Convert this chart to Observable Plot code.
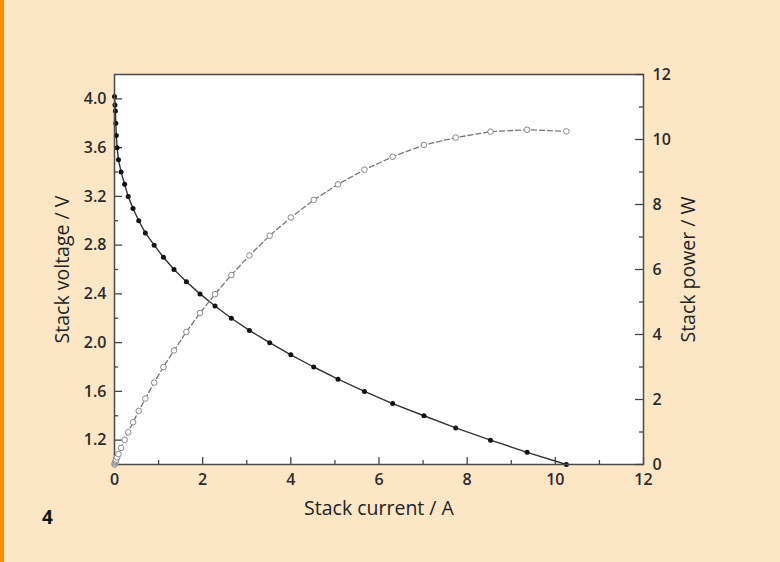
<!DOCTYPE html>
<html><head><meta charset="utf-8">
<script src="https://cdn.jsdelivr.net/npm/d3@7"></script>
<script src="https://cdn.jsdelivr.net/npm/@observablehq/plot@0.6"></script>
<style>
html,body{margin:0;padding:0;}
body{width:780px;height:562px;background:#FDE6C6;position:relative;overflow:hidden;font-family:"Open Sans",sans-serif;}
#stripe{position:absolute;left:0;top:0;width:4px;height:562px;background:#F39200;}
#chart{position:absolute;left:0;top:0;width:780px;height:562px;}
#chart svg{position:absolute;left:0;top:0;}
</style></head><body><div id="stripe"></div><div id="chart"></div>
<script>
// Data
const current = [0, 0.01, 0.02, 0.03, 0.04, 0.06, 0.09, 0.15, 0.23, 0.31, 0.42, 0.55, 0.70, 0.90, 1.11, 1.35, 1.63, 1.94, 2.28, 2.65, 3.06, 3.52, 4.00, 4.52, 5.07, 5.67, 6.31, 7.02, 7.74, 8.53, 9.36, 10.25];
const voltage = [4.02, 3.95, 3.9, 3.8, 3.7, 3.6, 3.5, 3.4, 3.3, 3.2, 3.1, 3.0, 2.9, 2.8, 2.7, 2.6, 2.5, 2.4, 2.3, 2.2, 2.1, 2.0, 1.9, 1.8, 1.7, 1.6, 1.5, 1.4, 1.3, 1.2, 1.1, 1.0];
const power = [0, 0.04, 0.08, 0.11, 0.15, 0.22, 0.32, 0.51, 0.76, 0.99, 1.30, 1.65, 2.03, 2.52, 3.00, 3.51, 4.08, 4.66, 5.24, 5.83, 6.43, 7.04, 7.60, 8.14, 8.62, 9.07, 9.47, 9.83, 10.06, 10.24, 10.30, 10.25];

const xMajorTicks = [0, 2, 4, 6, 8, 10, 12];
const xMinorTicks = [1, 3, 5, 7, 9, 11];
const voltMajorTicks = [1.2, 1.6, 2.0, 2.4, 2.8, 3.2, 3.6, 4.0];
const voltMinorTicks = [1.4, 1.8, 2.2, 2.6, 3.0, 3.4, 3.8];
const powerMajorTicks = [0, 2, 4, 6, 8, 10, 12];
const powerMinorTicks = [1, 3, 5, 7, 9, 11];

const xTitle = "Stack current / A";
const yLeftTitle = "Stack voltage / V";
const yRightTitle = "Stack power / W";
const figureNumber = "4";

const W = 780, H = 562, mL = 114, mR = 137, mT = 74, mB = 98;
const fw = W - mL - mR, fh = H - mT - mB;
const rows = current.map((c, i) => ({current: c, voltage: voltage[i], power: power[i]}));

const style = {background: "transparent", fontFamily: "'Open Sans', sans-serif", fontSize: "15px", color: "#333", overflow: "visible"};
const base = {width: W, height: H, marginLeft: mL, marginRight: mR, marginTop: mT, marginBottom: mB, style};
const tickStroke = "#444";
const titleSize = 19.5;
const tickFont = 16;
const tickFamily = "Open Sans";
const tickFill = "#2a2a2a";

const plot1 = Plot.plot({
  ...base,
  x: {domain: [0, 12], axis: null},
  y: {domain: [1.0, 4.2], axis: null},
  marks: [
    Plot.frame({fill: "white", stroke: "none"}),
    Plot.tickX(xMajorTicks, {x: d => d, insetTop: fh - 7, stroke: tickStroke, strokeWidth: 1.3}),
    Plot.tickX(xMinorTicks, {x: d => d, insetTop: fh - 4, stroke: tickStroke, strokeWidth: 1.3}),
    Plot.tickY(voltMajorTicks, {y: d => d, insetRight: fw - 8, stroke: tickStroke, strokeWidth: 1.3}),
    Plot.tickY(voltMinorTicks, {y: d => d, insetRight: fw - 4, stroke: tickStroke, strokeWidth: 1.3}),
    Plot.text(xMajorTicks, {x: d => d, text: d => String(d), frameAnchor: "bottom", dy: 15, textAnchor: "middle", lineAnchor: "middle", fontSize: tickFont, fontWeight: 600, fontFamily: tickFamily, fill: tickFill}),
    Plot.text(voltMajorTicks, {y: d => d, text: d => d.toFixed(1), frameAnchor: "left", dx: -8, textAnchor: "end", lineAnchor: "middle", fontSize: tickFont, fontWeight: 600, fontFamily: tickFamily, fill: tickFill}),
    Plot.line(rows, {x: "current", y: "voltage", stroke: "#333", strokeWidth: 1.4}),
    Plot.dot(rows, {x: "current", y: "voltage", r: 2.5, fill: "#111", stroke: "none"}),
    Plot.text([yLeftTitle], {text: d => d, frameAnchor: "left", dx: -52, rotate: -90, textAnchor: "middle", lineAnchor: "middle", fontSize: titleSize, fill: "#222"}),
    Plot.text([xTitle], {text: d => d, frameAnchor: "bottom", dy: 44, textAnchor: "middle", lineAnchor: "middle", fontSize: titleSize, fill: "#222"}),
    Plot.text([figureNumber], {text: d => d, frameAnchor: "bottom-left", dx: -67, dy: 53, textAnchor: "middle", lineAnchor: "middle", fontSize: 19, fontWeight: "bold", fill: "#111"}),
    Plot.frame({stroke: "#4a4a4a", strokeWidth: 1.5})
  ]
});

const plot2 = Plot.plot({
  ...base,
  x: {domain: [0, 12], axis: null},
  y: {domain: [0, 12], axis: null},
  marks: [
    Plot.tickY(powerMajorTicks, {y: d => d, insetLeft: fw - 8, stroke: tickStroke, strokeWidth: 1.3}),
    Plot.tickY(powerMinorTicks, {y: d => d, insetLeft: fw - 4, stroke: tickStroke, strokeWidth: 1.3}),
    Plot.text(powerMajorTicks, {y: d => d, text: d => String(d), frameAnchor: "right", dx: 9, textAnchor: "start", lineAnchor: "middle", fontSize: tickFont, fontWeight: 600, fontFamily: tickFamily, fill: tickFill}),
    Plot.line(rows, {x: "current", y: "power", stroke: "#777", strokeWidth: 1.3, strokeDasharray: "5,3"}),
    Plot.dot(rows, {x: "current", y: "power", r: 2.8, fill: "white", stroke: "#888", strokeWidth: 1}),
    Plot.text([yRightTitle], {text: d => d, frameAnchor: "right", dx: 45, rotate: -90, textAnchor: "middle", lineAnchor: "middle", fontSize: titleSize, fill: "#222"})
  ]
});

const chart = document.getElementById("chart");
chart.appendChild(plot1);
chart.appendChild(plot2);
</script>
</body></html>
